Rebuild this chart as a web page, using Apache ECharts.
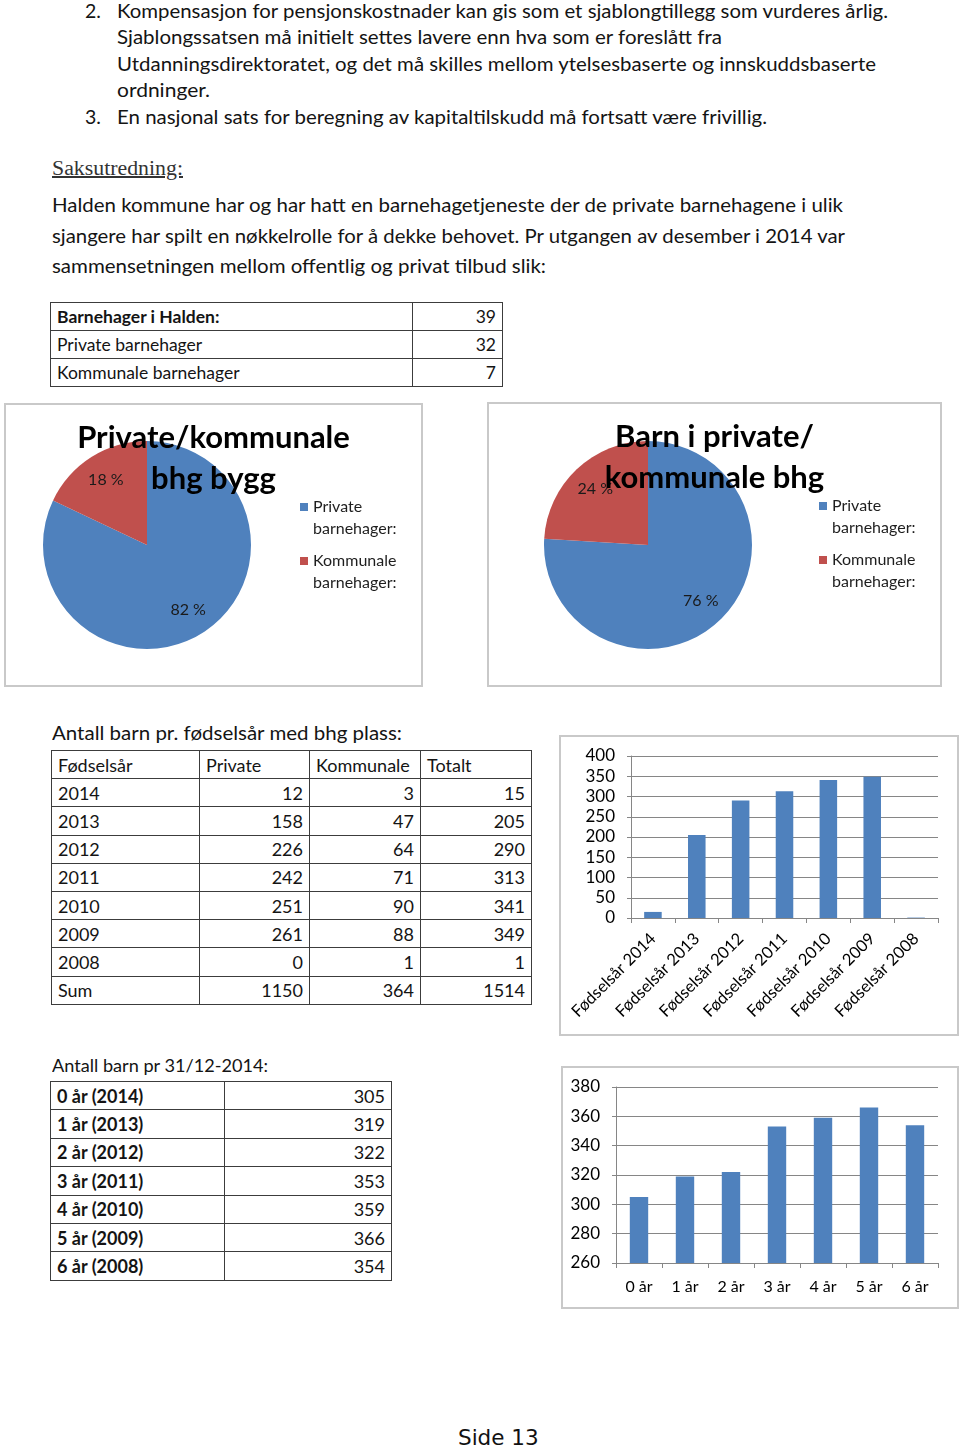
<!DOCTYPE html>
<html><head><meta charset="utf-8">
<script src="https://cdn.jsdelivr.net/npm/echarts@6/dist/echarts.min.js"></script>
<style>
body{margin:0;width:960px;height:1449px;position:relative;background:#fff;font-family:Lato,sans-serif;color:#141414;overflow:hidden}
.t{position:absolute;white-space:nowrap;transform-origin:0 50%}
.box{position:absolute;box-sizing:border-box;border:2px solid #c9c9c9;background:#fff}
table{position:absolute;border-collapse:collapse;table-layout:fixed;font-family:Lato,sans-serif;color:#141414}
td{border:1px solid #3c3c3c;padding:0 6px;box-sizing:border-box;white-space:nowrap;overflow:hidden}
td.r{text-align:right}
</style></head>
<body>
<div class="t" style="left:85px;top:-1px;font-size:19.5px;line-height:24px">2.</div>
<div class="t" data-fit="771" style="left:117px;top:-1px;font-size:19.5px;line-height:24px">Kompensasjon for pensjonskostnader kan gis som et sjablongtillegg som vurderes årlig.</div>
<div class="t" data-fit="605" style="left:117px;top:25px;font-size:19.5px;line-height:24px">Sjablongssatsen må initielt settes lavere enn hva som er foreslått fra</div>
<div class="t" data-fit="759" style="left:117px;top:52px;font-size:19.5px;line-height:24px">Utdanningsdirektoratet, og det må skilles mellom ytelsesbaserte og innskuddsbaserte</div>
<div class="t" data-fit="93" style="left:117px;top:78px;font-size:19.5px;line-height:24px">ordninger.</div>
<div class="t" style="left:85px;top:105px;font-size:19.5px;line-height:24px">3.</div>
<div class="t" data-fit="650" style="left:117px;top:105px;font-size:19.5px;line-height:24px">En nasjonal sats for beregning av kapitaltilskudd må fortsatt være frivillig.</div>
<div class="t" data-fit="131" style="left:52px;top:156px;font-size:20px;line-height:24px;font-family:'Liberation Serif',serif;text-decoration:underline;color:#333">Saksutredning:</div>
<div class="t" data-fit="791" style="left:52px;top:193px;font-size:19px;line-height:24px">Halden kommune har og har hatt en barnehagetjeneste der de private barnehagene i ulik</div>
<div class="t" data-fit="793" style="left:52px;top:224px;font-size:19px;line-height:24px">sjangere har spilt en nøkkelrolle for å dekke behovet. Pr utgangen av desember i 2014 var</div>
<div class="t" data-fit="494" style="left:52px;top:254px;font-size:19px;line-height:24px">sammensetningen mellom offentlig og privat tilbud slik:</div>

<table id="tab1" style="left:50px;top:302px;width:452px;font-size:17.5px"></table>

<div class="box" id="pie1" style="left:4px;top:403px;width:419px;height:284px"></div>
<div class="box" id="pie2" style="left:487px;top:402px;width:455px;height:285px"></div>

<div class="t" data-fit="350" style="left:52px;top:721px;font-size:19.5px;line-height:24px">Antall barn pr. fødselsår med bhg plass:</div>
<table id="tab2" style="left:51px;top:750px;width:480px;font-size:18px"></table>
<div class="box" id="bar1" style="left:559px;top:735px;width:400px;height:301px"></div>

<div class="t" data-fit="216" style="left:52px;top:1053px;font-size:18px;line-height:24px">Antall barn pr 31/12-2014:</div>
<table id="tab3" style="left:50px;top:1081px;width:341px;font-size:18px"></table>
<div class="box" id="bar2" style="left:561px;top:1066px;width:398px;height:243px"></div>

<div class="t" style="left:458px;top:1426px;font-size:21.5px;line-height:24px;font-family:'DejaVu Sans',sans-serif;color:#111">Side 13</div>

<script>
// ---------- data ----------
const kindergartenRows = ['Barnehager i Halden:', 'Private barnehager', 'Kommunale barnehager'];
const kindergartenCounts = [39, 32, 7];

const pieNames = ['Private barnehager:', 'Kommunale barnehager:'];
const pieBuildingValues = [32, 7];
const pieChildrenValues = [1150, 364];
const pieBuildingTitle = 'Private/kommunale\nbhg bygg';
const pieChildrenTitle = 'Barn i private/\nkommunale bhg';

const birthTableHeader = ['Fødselsår', 'Private', 'Kommunale', 'Totalt'];
const birthYears = ['2014', '2013', '2012', '2011', '2010', '2009', '2008', 'Sum'];
const birthPrivate = [12, 158, 226, 242, 251, 261, 0, 1150];
const birthKommunale = [3, 47, 64, 71, 90, 88, 1, 364];
const birthTotal = [15, 205, 290, 313, 341, 349, 1, 1514];

const bar1Categories = ['Fødselsår 2014', 'Fødselsår 2013', 'Fødselsår 2012', 'Fødselsår 2011', 'Fødselsår 2010', 'Fødselsår 2009', 'Fødselsår 2008'];
const bar1Values = [15, 205, 290, 313, 341, 349, 1];

const ageRows = ['0 år (2014)', '1 år (2013)', '2 år (2012)', '3 år (2011)', '4 år (2010)', '5 år (2009)', '6 år (2008)'];
const ageCounts = [305, 319, 322, 353, 359, 366, 354];
const bar2Categories = ['0 år', '1 år', '2 år', '3 år', '4 år', '5 år', '6 år'];

// ---------- tables ----------
function buildTable(id, widths, rowH, rows) {
  const t = document.getElementById(id);
  let h = '<colgroup>' + widths.map(w => '<col style="width:' + w + 'px">').join('') + '</colgroup>';
  rows.forEach(r => {
    h += '<tr style="height:' + rowH + 'px">' + r.map(c => '<td class="' + (c.cls || '') + '" style="' + (c.bold ? 'font-weight:bold;' : '') + '">' + c.v + '</td>').join('') + '</tr>';
  });
  t.innerHTML = h;
}
buildTable('tab1', [362, 90], 28, kindergartenRows.map((n, i) => [{v: n, bold: i === 0}, {v: kindergartenCounts[i], cls: 'r'}]));
const t2rows = [birthTableHeader.map(v => ({v}))];
birthYears.forEach((y, i) => t2rows.push([{v: y}, {v: birthPrivate[i], cls: 'r'}, {v: birthKommunale[i], cls: 'r'}, {v: birthTotal[i], cls: 'r'}]));
buildTable('tab2', [148, 110, 111, 111], 28.2, t2rows);
buildTable('tab3', [174, 167], 28.4, ageRows.map((n, i) => [{v: n, bold: true}, {v: ageCounts[i], cls: 'r'}]));

// ---------- fit text lines ----------
function fit() {
  document.querySelectorAll('[data-fit]').forEach(el => {
    el.style.transform = '';
    const w = el.getBoundingClientRect().width;
    el.style.transform = 'scaleX(' + (parseFloat(el.dataset.fit) / w) + ')';
  });
}
fit();

// ---------- charts ----------
const F = 'Lato, sans-serif';
const BLUE = '#4f81bd', RED = '#c0504d';

function pieOption(title, values, legendLeft, center) {
  const data = pieNames.map((n, i) => ({name: n, value: values[i]}));
  return {
    animation: false,
    color: [BLUE, RED],
    title: {text: title, left: 'center', top: 7, textStyle: {fontFamily: F, fontSize: 31, fontWeight: 'bold', color: '#000', lineHeight: 41}},
    legend: {
      orient: 'vertical', left: legendLeft, top: 86, itemGap: 10, itemWidth: 8, itemHeight: 30,
      icon: 'path://M0,0h8v8h-8z M0,30h0.01', selectedMode: false,
      formatter: n => n.replace(' ', '\n'),
      textStyle: {fontFamily: F, fontSize: 16, lineHeight: 22, color: '#1e1e1e'},
      itemStyle: {borderWidth: 0}
    },
    series: [
      {type: 'pie', radius: 104, center, startAngle: 90, clockwise: true, silent: true,
       itemStyle: {borderWidth: 0}, label: {show: false}, labelLine: {show: false}, data},
      {type: 'pie', radius: [44, 104], center, startAngle: 90, clockwise: true, silent: true, percentPrecision: 0,
       itemStyle: {color: 'transparent', borderWidth: 0}, labelLine: {show: false},
       label: {show: true, position: 'inside', formatter: '{d} %', fontFamily: F, fontSize: 16, color: '#1a1a1a'}, data}
    ]
  };
}

function barOption(cats, vals, grid, yMin, yMax, yInt, xLabel, yMargin) {
  return {
    animation: false,
    grid,
    xAxis: {type: 'category', data: cats,
      axisLine: {lineStyle: {color: '#868686', width: 1}},
      axisTick: {show: true, length: 5, lineStyle: {color: '#868686'}},
      axisLabel: Object.assign({interval: 0, fontFamily: F, fontSize: 16, color: '#000'}, xLabel)},
    yAxis: {type: 'value', min: yMin, max: yMax, interval: yInt,
      axisLine: {show: true, lineStyle: {color: '#868686'}},
      axisTick: {show: true, length: 4, lineStyle: {color: '#868686'}},
      splitLine: {lineStyle: {color: '#868686', width: 1}},
      axisLabel: {fontFamily: F, fontSize: 17, color: '#000', margin: yMargin}},
    series: [{type: 'bar', data: vals, barWidth: '40%', itemStyle: {color: BLUE}, silent: true}]
  };
}

const c1 = echarts.init(document.getElementById('pie1'), null, {renderer: 'canvas'});
c1.setOption(pieOption(pieBuildingTitle, pieBuildingValues, 289, [141, 140]));
const c2 = echarts.init(document.getElementById('pie2'), null, {renderer: 'canvas'});
c2.setOption(pieOption(pieChildrenTitle, pieChildrenValues, 325, [159, 141]));
const c3 = echarts.init(document.getElementById('bar1'), null, {renderer: 'canvas'});
c3.setOption(barOption(bar1Categories, bar1Values, {left: 70, top: 19, right: 19, bottom: 116}, 0, 400, 50, {rotate: 45, margin: 18, fontSize: 16.5}, 16));
const c4 = echarts.init(document.getElementById('bar2'), null, {renderer: 'canvas'});
c4.setOption(barOption(bar2Categories, ageCounts, {left: 53, top: 19, right: 19, bottom: 44}, 260, 380, 20, {margin: 16}, 16));
</script>
</body></html>
